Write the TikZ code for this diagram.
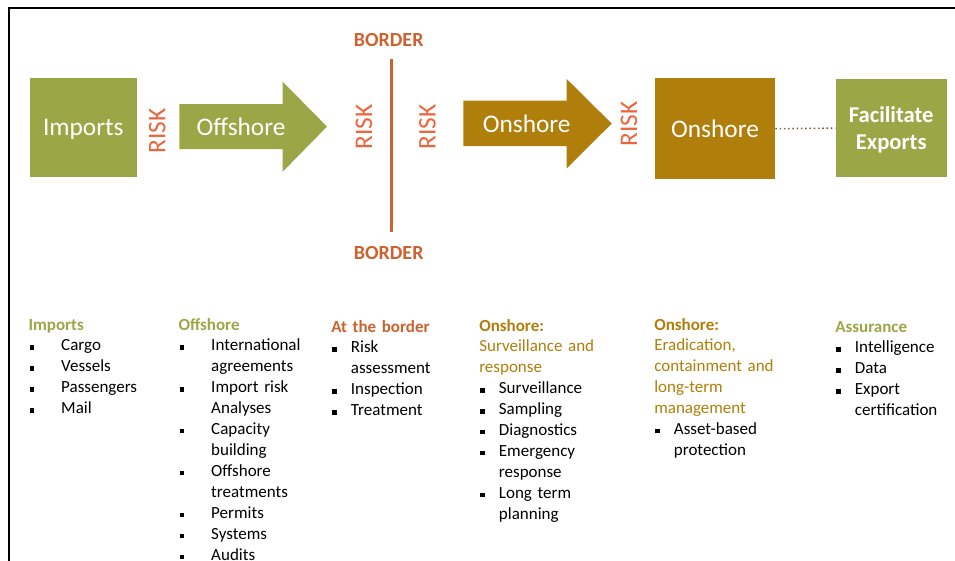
\documentclass[tikz,border=0pt]{standalone}
\usepackage{fontspec}
\setmainfont{Carlito}
\usetikzlibrary{positioning}

\definecolor{olivegrn}{RGB}{155,166,71}
\definecolor{goldbrn}{RGB}{176,126,10}
\definecolor{riskred}{RGB}{236,100,60}
\definecolor{bordorange}{RGB}{204,98,46}
\definecolor{dotbrown}{RGB}{125,95,70}

% one square-bulleted entry with hanging indent
\newcommand{\sqitem}[2]{\par\hangindent=#1\hangafter=1\noindent\makebox[#1][l]{\hspace{0.75pt}\rule[0.9pt]{3.2pt}{3.2pt}}#2}
\newcommand{\brk}{\hfil\break}

\tikzset{
	stagebox/.style={inner sep=0pt, text depth=0pt, text=white, font=\fontsize{19pt}{22pt}\selectfont},
	risklabel/.style={rotate=90, inner sep=0pt, text=riskred, font=\fontsize{19pt}{22pt}\selectfont},
	borderlabel/.style={inner sep=0pt, text=bordorange, font=\bfseries\fontsize{15pt}{18pt}\selectfont},
	column/.style={anchor=base west, inner sep=0pt, text width=170pt, align=left, font=\fontsize{12.75pt}{15.7pt}\selectfont}
}

\begin{document}
\begin{tikzpicture}[x=0.75pt, y=-0.75pt]
		\useasboundingbox (0,0) rectangle (955,560);
		\draw[color=black, line width=2pt] (9,562) -- (9,8) -- (957,8);
		
		% stages along the pathway
		\node[stagebox, fill=olivegrn, minimum width=80pt, minimum height=74.25pt] (impbox) at (83.3,127.8) {Imports};
		\fill[olivegrn] (179.3,104) -- (282.7,104) -- (282.7,81.7) -- (327,126.6) -- (282.7,171.7) -- (282.7,149) -- (179.3,149) -- cycle;
		\node[stagebox] (offtxt) at (241,127) {Offshore};
		\fill[goldbrn] (463.3,100.7) -- (566.7,100.7) -- (566.7,79) -- (611.7,123.6) -- (566.7,168.3) -- (566.7,146) -- (463.3,146) -- cycle;
		\node[stagebox] (ontxt) at (526.7,124) {Onshore};
		\node[stagebox, fill=goldbrn, minimum width=90pt, minimum height=75.5pt] (onbox) at (715,128.7) {Onshore};
		\node[stagebox, fill=olivegrn, minimum width=83.25pt, minimum height=73.7pt, align=center, font=\bfseries\fontsize{17pt}{20.5pt}\selectfont] (facbox) at (891.2,128.2) {Facilitate\\Exports};
		\draw[color=dotbrown, dotted, line width=1.2pt] (onbox.east) -- (facbox.west);
		
		\node[risklabel] (risk1) at (157.3,130.7) {RISK};
		\node[risklabel] (risk2) at (364,126.7) {RISK};
		\node[risklabel] (risk3) at (427.5,126.7) {RISK};
		\node[risklabel] (risk4) at (629,124) {RISK};
		
		% the border itself
		\node[borderlabel] (bordtop) at (388.7,39.7) {BORDER};
		\node[borderlabel] (bordbot) at (388.7,253.3) {BORDER};
		\coordinate (linetop) at (391.7,59.3);
		\coordinate (linebot) at (391.7,231.7);
		\draw[color=bordorange, line width=2.6pt] (linetop) -- (linebot);
		
		% activity lists
		\node[column] (impcol) at (28.3,330) {\textcolor{olivegrn}{\bfseries Imports}
			\sqitem{24.5pt}{Cargo}
			\sqitem{24.5pt}{Vessels}
			\sqitem{24.5pt}{Passengers}
			\sqitem{24.5pt}{Mail}\par};
		\node[column] (offcol) at (178.3,330) {\textcolor{olivegrn}{\bfseries Offshore}
			\sqitem{24.5pt}{International\brk agreements}
			\sqitem{24.5pt}{Import risk\brk Analyses}
			\sqitem{24.5pt}{Capacity\brk building}
			\sqitem{24.5pt}{Offshore\brk treatments}
			\sqitem{24.5pt}{Permits}
			\sqitem{24.5pt}{Systems}
			\sqitem{24.5pt}{Audits}\par};
		\node[column] (bordcol) at (331,332) {\textcolor{bordorange}{\bfseries At the border}
			\sqitem{14.75pt}{Risk\brk assessment}
			\sqitem{14.75pt}{Inspection}
			\sqitem{14.75pt}{Treatment}\par};
		\node[column] (survcol) at (479,331) {\textcolor{goldbrn}{\bfseries Onshore:}\\
			\textcolor{goldbrn}{Surveillance and\\response}
			\sqitem{14.75pt}{Surveillance}
			\sqitem{14.75pt}{Sampling}
			\sqitem{14.75pt}{Diagnostics}
			\sqitem{14.75pt}{Emergency\brk response}
			\sqitem{14.75pt}{Long term\brk planning}\par};
		\node[column] (eradcol) at (654,330) {\textcolor{goldbrn}{\bfseries Onshore:}\\
			\textcolor{goldbrn}{Eradication,\\containment and\\long-term\\management}
			\sqitem{14.75pt}{Asset-based\brk protection}\par};
		\node[column] (assucol) at (835,332) {\textcolor{olivegrn}{\bfseries Assurance}
			\sqitem{14.75pt}{Intelligence}
			\sqitem{14.75pt}{Data}
			\sqitem{14.75pt}{Export\brk certification}\par};
	\end{tikzpicture}
\end{document}
